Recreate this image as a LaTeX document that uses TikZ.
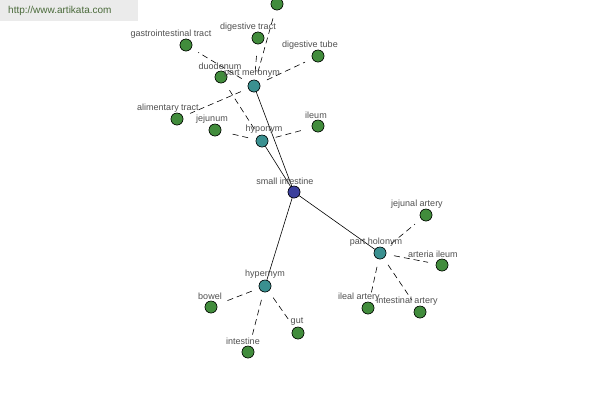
\documentclass[tikz,border=0pt]{standalone}
\usepackage{fontspec}
\setmainfont{Liberation Sans}
\begin{document}
\begin{tikzpicture}[x=1pt,y=-1pt,
  dot/.style={circle,draw=black,line width=0.5pt,minimum size=12pt,inner sep=0pt},
  leaf/.style={dot,fill=leafc},
  rel/.style={dot,fill=relc},
  root/.style={dot,fill=rootc},
  lbl/.style={font=\fontsize{9}{10}\selectfont,text=txtc,inner sep=0pt},
  solid link/.style={draw=black,line width=0.6pt},
  dash link/.style={draw=black,line width=0.6pt,dash pattern=on 6pt off 4pt,shorten <=8pt,shorten >=8pt}]
\definecolor{leafc}{HTML}{418C3C}
\definecolor{relc}{HTML}{3A9090}
\definecolor{rootc}{HTML}{3B3F9C}
\definecolor{txtc}{HTML}{505050}
\definecolor{wmbg}{HTML}{EBEBEB}
\definecolor{wmtxt}{HTML}{4A6A3A}
\useasboundingbox[fill=white] (0,0) rectangle (600,400);
\fill[wmbg] (0,0) rectangle (138,21);
\node[font=\fontsize{10}{11}\selectfont,text=wmtxt,anchor=west,inner sep=0pt] (wm) at (8,11) {http://www.artikata.com};
% nodes
\node[root] (si) at (294,192) {};
\node[rel] (pm) at (254,86) {};
\node[rel] (hypo) at (262,141) {};
\node[rel] (hyper) at (265,286) {};
\node[rel] (ph) at (380,253) {};
\node[leaf] (top) at (277,4) {};
\node[leaf] (dtract) at (258,38) {};
\node[leaf] (git) at (186,45) {};
\node[leaf] (dtube) at (318,56) {};
\node[leaf] (duo) at (221,77) {};
\node[leaf] (alim) at (177,119) {};
\node[leaf] (jej) at (215,130) {};
\node[leaf] (ileum) at (318,126) {};
\node[leaf] (jart) at (426,215) {};
\node[leaf] (aril) at (442,265) {};
\node[leaf] (ilart) at (368,308) {};
\node[leaf] (intart) at (420,312) {};
\node[leaf] (bowel) at (211,307) {};
\node[leaf] (gut) at (298,333) {};
\node[leaf] (intest) at (248,352) {};
% edges
\draw[solid link] (si) -- (pm);
\draw[solid link] (si) -- (hypo);
\draw[solid link] (si) -- (hyper);
\draw[solid link] (si) -- (ph);
\foreach \n in {top,dtract,git,dtube,alim} \draw[dash link] (pm) -- (\n);
\foreach \n in {duo,jej,ileum} \draw[dash link] (hypo) -- (\n);
\foreach \n in {bowel,gut,intest} \draw[dash link] (hyper) -- (\n);
\foreach \n in {jart,aril,ilart,intart} \draw[dash link] (ph) -- (\n);
% redraw nodes on top
\foreach \n/\s in {si/root,pm/rel,hypo/rel,hyper/rel,ph/rel}
  \node[\s] at (\n) {};
\foreach \n in {top,dtract,git,dtube,duo,alim,jej,ileum,jart,aril,ilart,intart,bowel,gut,intest}
  \node[leaf] at (\n) {};
% labels
\node[lbl] (l-si) at (285,181) {small intestine};
\node[lbl] (l-pm) at (252,74) {part meronym};
\node[lbl] (l-hypo) at (264,129) {hyponym};
\node[lbl] (l-hyper) at (265,274) {hypernym};
\node[lbl] (l-ph) at (376,242) {part holonym};
\node[lbl] (l-dtract) at (248,27) {digestive tract};
\node[lbl] (l-git) at (171,34) {gastrointestinal tract};
\node[lbl] (l-dtube) at (310,45) {digestive tube};
\node[lbl] (l-duo) at (220,66) {duodenum};
\node[lbl] (l-alim) at (168,108) {alimentary tract};
\node[lbl] (l-jej) at (212,119) {jejunum};
\node[lbl] (l-ileum) at (316,115) {ileum};
\node[lbl] (l-jart) at (417,204) {jejunal artery};
\node[lbl] (l-aril) at (433,254) {arteria ileum};
\node[lbl] (l-ilart) at (359,297) {ileal artery};
\node[lbl] (l-intart) at (407,301) {intestinal artery};
\node[lbl] (l-bowel) at (210,296) {bowel};
\node[lbl] (l-gut) at (297,322) {gut};
\node[lbl] (l-intest) at (243,341) {intestine};
\end{tikzpicture}
\end{document}
